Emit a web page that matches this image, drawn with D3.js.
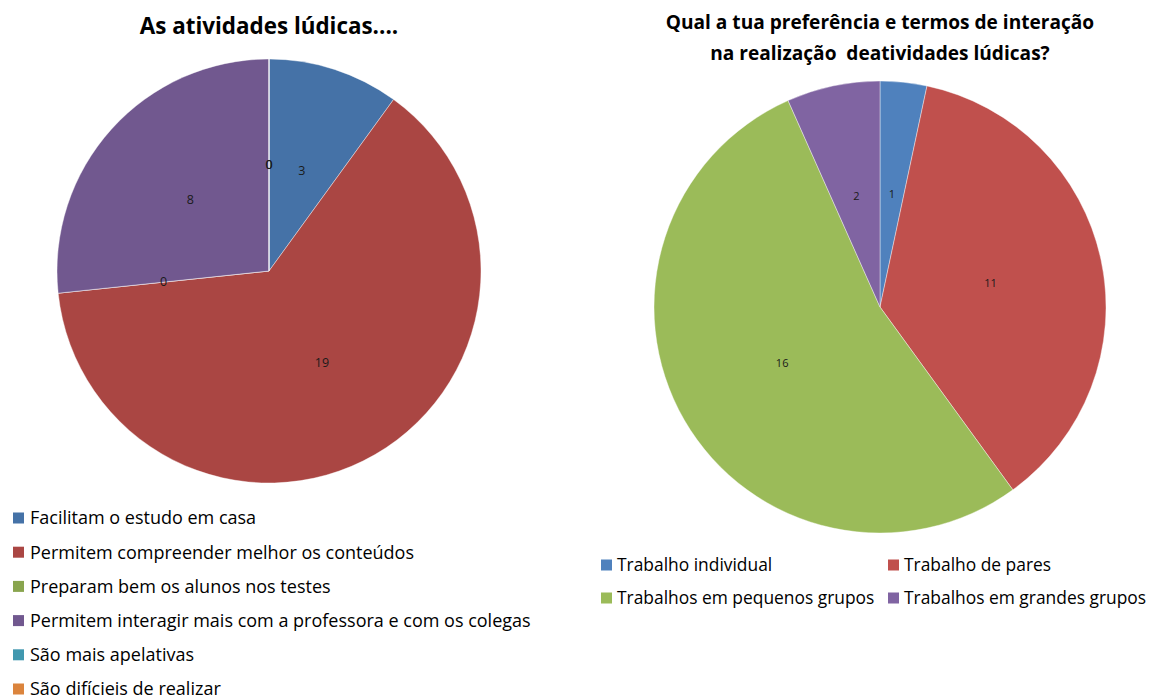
<!DOCTYPE html>
<html><head><meta charset="utf-8">
<script src="https://cdn.jsdelivr.net/npm/d3@7"></script>
<style>body{margin:0;background:#fff}svg{display:block}</style>
</head><body>
<svg id="c" width="1151" height="697"></svg>
<script>
const leftCategories = ["Facilitam o estudo em casa","Permitem compreender melhor os conteúdos","Preparam bem os alunos nos testes","Permitem interagir mais com a professora e com os colegas","São mais apelativas","São difícieis de realizar"];
const leftValues = [3,19,0,8,0,0];
const leftColors = ["#4572A7","#AA4643","#89A54E","#71588F","#4198AF","#DB843D"];
const leftTitle = "As atividades lúdicas....";

const rightCategories = ["Trabalho individual","Trabalho de pares","Trabalhos em pequenos grupos","Trabalhos em grandes grupos"];
const rightValues = [1,11,16,2];
const rightColors = ["#4F81BD","#C0504D","#9BBB59","#8064A2"];
const rightTitle = ["Qual a tua preferência e termos de interação","na realização  deatividades lúdicas?"];

const svg = d3.select("#c");
const FONT = "'Open Sans', sans-serif";

function drawPie(cx, cy, r, values, colors, labelSize, labelDist){
  const pie = d3.pie().sort(null).value(d=>d);
  const arcs = pie(values);
  const arc = d3.arc().innerRadius(0).outerRadius(r);
  const lab = d3.arc().innerRadius(r*labelDist).outerRadius(r*labelDist);
  const g = svg.append("g").attr("transform",`translate(${cx},${cy})`);
  g.selectAll("path").data(arcs).join("path")
    .attr("d",arc).attr("fill",(d,i)=>colors[i])
    .attr("stroke","#ffffff").attr("stroke-opacity",0.5).attr("stroke-width",0.8);
  g.selectAll("text").data(arcs).join("text")
    .attr("transform",d=>`translate(${lab.centroid(d)})`)
    .attr("text-anchor","middle").attr("dy","0.35em")
    .attr("font-family",FONT).attr("font-size",labelSize).attr("fill","#1a1a1a")
    .text(d=>d.data);
}

drawPie(269,271,212,leftValues,leftColors,12.5,0.5);
drawPie(880,307,226,rightValues,rightColors,11,0.5);

svg.append("text").attr("x",269).attr("y",34).attr("text-anchor","middle")
  .attr("font-family",FONT).attr("font-weight","bold").attr("font-size",22.4).attr("fill","#000")
  .text(leftTitle);
svg.selectAll("text.rt").data(rightTitle).join("text").attr("class","rt")
  .attr("x",880).attr("y",(d,i)=>29+i*31).attr("text-anchor","middle")
  .attr("font-family",FONT).attr("font-weight","bold").attr("font-size",19.1).attr("fill","#000")
  .attr("xml:space","preserve").style("white-space","pre")
  .text(d=>d);

// left legend
const ll = svg.append("g");
leftCategories.forEach((c,i)=>{
  const y = 518 + i*34.2;
  ll.append("rect").attr("x",13).attr("y",y-5.5).attr("width",11).attr("height",11).attr("fill",leftColors[i]);
  ll.append("text").attr("x",30).attr("y",y).attr("dy","0.35em")
    .attr("font-family",FONT).attr("font-size",18).attr("fill","#000").text(c);
});
// right legend
const rl = svg.append("g");
rightCategories.forEach((c,i)=>{
  const col = i%2, row = Math.floor(i/2);
  const x = col===0 ? 601 : 888;
  const y = 565 + row*33;
  rl.append("rect").attr("x",x).attr("y",y-5.5).attr("width",11).attr("height",11).attr("fill",rightColors[i]);
  rl.append("text").attr("x",x+16).attr("y",y).attr("dy","0.35em")
    .attr("font-family",FONT).attr("font-size",17.4).attr("fill","#000").text(c);
});
</script>
</body></html>
